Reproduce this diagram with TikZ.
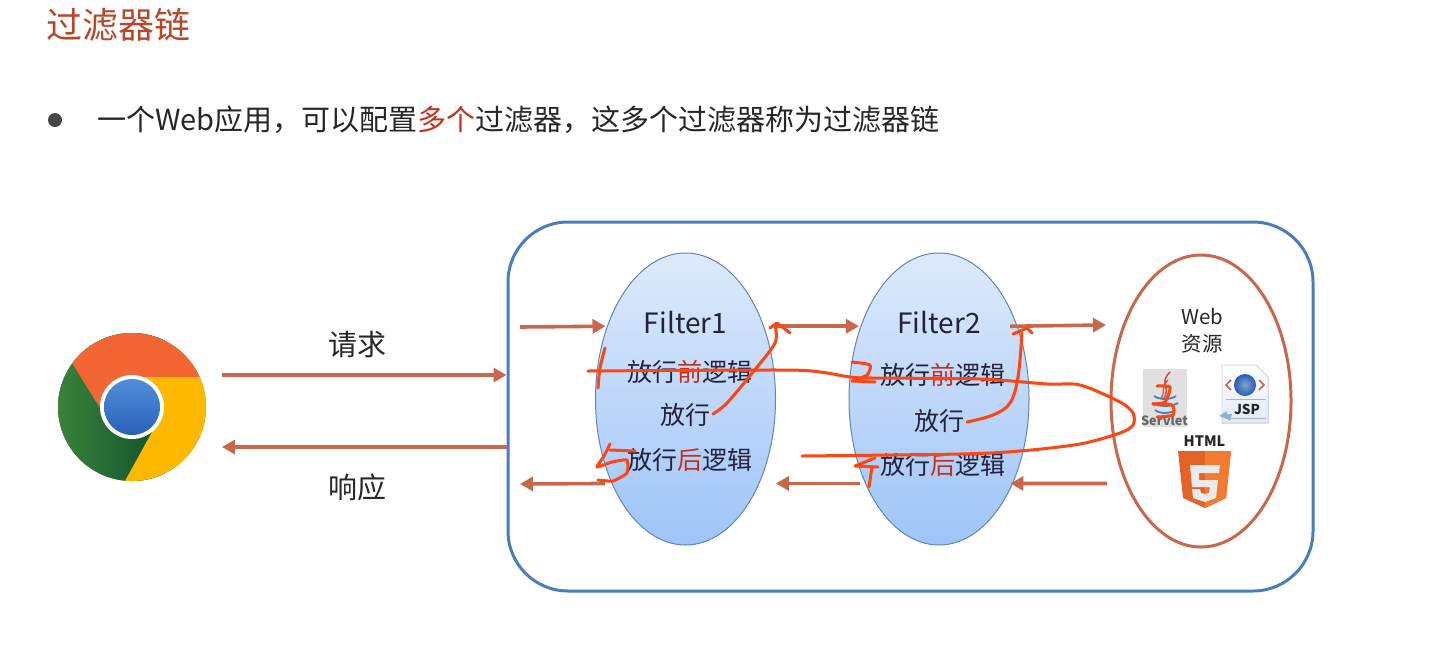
\documentclass[tikz,border=0pt]{standalone}
\usepackage{fontspec}
\setmainfont{Noto Sans CJK SC}
\usepackage{xcolor}
\usetikzlibrary{arrows.meta,positioning,shapes.geometric,calc}
\definecolor{fcTitle} {RGB}{183, 71, 42}
\definecolor{fcInk}   {RGB}{ 38, 38, 38}
\definecolor{fcRed}   {RGB}{196, 48, 28}
\definecolor{fcFlow}  {RGB}{201,103, 76}
\definecolor{fcFrame} {RGB}{ 74,126,187}
\definecolor{fcLine}  {RGB}{ 98,132,182}
\definecolor{fcBlueT} {RGB}{222,234,251}
\definecolor{fcBlueB} {RGB}{158,196,248}
\definecolor{fcPen}   {RGB}{255, 69, 19}
\definecolor{fcHtml}  {RGB}{228, 98, 40}
\definecolor{fcHtmlL} {RGB}{244,122, 52}
\definecolor{fcGlobe} {RGB}{ 40, 90,180}
\definecolor{fcChromeR}{RGB}{243,101, 51}
\definecolor{fcChromeY}{RGB}{255,184,  0}
\definecolor{fcChromeG}{RGB}{ 62,134, 60}
\definecolor{fcChromeD}{RGB}{ 14, 80, 44}
\definecolor{fcChromeT}{RGB}{ 82,142,218}
\definecolor{fcChromeB}{RGB}{ 42, 96,182}

\begin{document}
\begin{tikzpicture}[
  x=0.5pt,y=-0.5pt,
  txt/.style={inner sep=0pt,text=fcInk,font=\fontsize{14.5pt}{17pt}\selectfont},
  stepline/.style={inner sep=0pt,text=fcInk!90!blue,font=\fontsize{12.5pt}{15pt}\selectfont},
  filter/.style={ellipse,draw=fcLine,line width=0.5pt,inner sep=0pt,outer sep=0pt,
                 minimum width=90pt,minimum height=146pt,
                 top color=fcBlueT,bottom color=fcBlueB},
  flow/.style={draw=fcFlow,line width=1.8pt,-{Triangle[length=6.5pt,width=7pt]}},
  pen/.style={draw=fcPen,line width=1.5pt,line cap=round,line join=round}
]
\useasboundingbox (0,0) rectangle (1455,670);

% --- Heading
\node[anchor=west,inner sep=0pt,text=fcTitle,font=\fontsize{18pt}{20pt}\selectfont]
     (title) at (46,25) {过滤器链};
\node[circle,fill=fcInk!85,inner sep=0pt,minimum size=7pt] (bullet) at (55,120) {};
\node[txt,anchor=west] (intro) at (97,120)
     {一个Web应用，可以配置\textcolor{fcRed}{多个}过滤器，这多个过滤器称为过滤器链};

% --- Browser
\node[circle,fill=fcChromeG,inner sep=0pt,minimum size=74pt] (chrome) at (132,407) {};
\begin{scope}
  \clip (132,407) circle[radius=37pt];
  \shade[left color=fcChromeG,middle color=fcChromeG,right color=fcChromeD]
     (50,320) rectangle (165,490);
  \fill[fcChromeR]
     (72,363) -- (103,413) -- (132,407) -- (143,377) -- (215,377) -- (215,320) -- (50,320) -- cycle;
  \fill[fcChromeY]
     (143,377) -- (215,377) -- (215,490) -- (120,490) -- (152,432) -- (132,407) -- cycle;
\end{scope}
\fill[white] (chrome.center) circle[radius=16pt];
\shade[top color=fcChromeT,bottom color=fcChromeB] (chrome.center) circle[radius=14pt];

% --- Frame and its three ellipses
\node[draw=fcFrame,line width=1.5pt,rounded corners=30pt,inner sep=0pt,
      minimum width=402.5pt,minimum height=184.5pt] (frame) at (910.5,406.5) {};
\node[filter] (f1) at (685.5,399) {};
\node[filter] (f2) at (939,399) {};
\node[ellipse,draw=fcFlow,line width=1.5pt,inner sep=0pt,outer sep=0pt,
      minimum width=90pt,minimum height=146pt] (res) at (1201,401) {};

% --- Filter texts
\node[stepline] (f1name) at ([yshift=38pt] f1.center) {\fontsize{14pt}{16pt}\selectfont Filter1};
\node[stepline] (f1pre)  at ([xshift=2pt,yshift=13.5pt] f1.center) {放行\textcolor{fcRed}{前}逻辑};
\node[stepline] (f1go)   at ([yshift=-8pt] f1.center) {放行};
\node[stepline] (f1post) at ([xshift=2pt,yshift=-30.5pt] f1.center) {放行\textcolor{fcRed}{后}逻辑};
\node[stepline] (f2name) at ([yshift=38pt] f2.center) {\fontsize{14pt}{16pt}\selectfont Filter2};
\node[stepline] (f2pre)  at ([xshift=2pt,yshift=12pt] f2.center) {放行\textcolor{fcRed}{前}逻辑};
\node[stepline] (f2go)   at ([yshift=-11pt] f2.center) {放行};
\node[stepline] (f2post) at ([xshift=2pt,yshift=-33pt] f2.center) {放行\textcolor{fcRed}{后}逻辑};
\node[inner sep=0pt,text=fcInk,align=center,font=\fontsize{10.2pt}{13.5pt}\selectfont]
     (restxt) at (1202,331) {Web\\资源};

% --- Servlet icon
\node[fill=black!12,inner sep=0pt,minimum width=22pt,minimum height=29pt] (servlet) at (1165,398) {};
\node[inner sep=0pt,text=black!60,font=\fontsize{6.4pt}{7pt}\selectfont\bfseries]
     (servlettxt) at (1164.5,420.5) {Servlet};
\draw[draw=fcFlow!80!red,line width=0.8pt] (1170,372) .. controls (1158,384) and (1172,386) .. (1163,400);
\draw[draw=fcFlow!80!red,line width=0.6pt] (1168,380) .. controls (1160,388) and (1166,392) .. (1161,398);
\foreach \yy/\ww in {396/11,403/13,410/10}
  \draw[draw=fcFrame,line width=0.9pt] (1165-\ww,\yy) .. controls (1165-\ww/2,\yy+4) and (1165+\ww/2,\yy+4) .. (1165+\ww,\yy);

% --- JSP icon
\filldraw[draw=black!18,top color=white,bottom color=fcBlueT,line width=0.4pt]
     (1222,365) -- (1256,365) -- (1268,377) -- (1268,423) -- (1222,423) -- cycle;
\shade[inner color=fcFrame!70!white,outer color=fcGlobe] (1245,385) circle[radius=5.5pt];
\draw[draw=fcFlow,line width=0.8pt] (1231,380) -- (1226,385) -- (1231,390)
     (1259,380) -- (1264,385) -- (1259,390);
\draw[draw=black!30,line width=0.4pt] (1226,399) -- (1266,399) (1226,418) -- (1266,418);
\node[inner sep=0pt,text=fcInk,font=\fontsize{6.8pt}{8pt}\selectfont\bfseries] (jsptxt) at (1247,409) {JSP};
\fill[fcFrame!60] (1219,416) -- (1227,411) -- (1227,414) -- (1232,414) -- (1230,421) -- (1227,419) -- cycle;

% --- HTML5 icon
\node[inner sep=0pt,text=fcInk,font=\fontsize{7.2pt}{8pt}\selectfont\bfseries] (htmltxt) at (1204.5,441) {HTML};
\fill[fcHtml] (1178,451) -- (1231,451) -- (1226,498) -- (1205,508) -- (1183,498) -- cycle;
\fill[fcHtmlL] (1205,451) -- (1231,451) -- (1226,498) -- (1205,508) -- cycle;
\fill[white!92!black] (1190,465) -- (1192,487) -- (1210,487) -- (1209,493) -- (1205,494) -- (1201,493)
     -- (1200,489) -- (1192,489) -- (1193,498) -- (1205,502) -- (1216,498) -- (1218,480)
     -- (1199,480) -- (1199,473) -- (1219,473) -- (1220,465) -- cycle;

% --- Request and response
\coordinate (reqS) at (222,375);
\coordinate (respE) at (222,447);
\draw[flow] (reqS) -- (reqS -| frame.west);
\draw[flow] (respE -| frame.west) -- (respE);
\node[txt] (reqtxt) at (357.5,344) {请求};
\node[txt] (resptxt) at (357.5,487) {响应};

% --- Chain arrows
\coordinate (inS) at (520,327);
\coordinate (outE) at (520,484);
\coordinate (toRes) at (1106,325);
\draw[flow] (inS) -- ([xshift=-1pt] f1.137);
\draw[flow] ([xshift=6pt] f1.43) -- ([xshift=-1pt] f2.137);
\draw[flow] ([xshift=-3.5pt] f2.43) -- (toRes);
\draw[flow] ([xshift=-3.5pt] f1.229) -- (outE);
\draw[flow] ([xshift=-3pt] f2.229) -- ([xshift=8.5pt] f1.311);
\draw[flow] ([xshift=-10pt] res.228) -- ([xshift=-1pt] f2.311);

% --- Pen strokes on top
\draw[pen] plot[smooth] coordinates {(605,348) (600,368) (598,388)};
\draw[pen] plot[smooth,tension=0.5] coordinates {(588,371) (780,370) (820,372) (850,377) (873,378) (980,379)
     (1047,384) (1080,385) (1120,402) (1133,413) (1133,425) (1120,433) (1080,444) (1020,451) (960,454) (802,456)};
\draw[pen] plot[smooth,tension=0.4] coordinates {(852,362) (870,365) (867,375) (852,381)};
\draw[pen] (852,381) -- (875,382);
\draw[pen] plot[smooth,tension=0.5] coordinates {(713,414) (727,403) (753,372) (775,343) (775,325)};
\draw[pen] (770,328) -- (777,323) -- (790,333);
\draw[pen] plot[smooth,tension=0.6] coordinates {(967,422) (993,415) (1010,403) (1018,377) (1022,333)};
\draw[pen] (1013,334) -- (1027,328) -- (1032,333);
\draw[pen] plot[smooth,tension=0.4] coordinates {(1157,386) (1170,387) (1165,402) (1153,404)};
\draw[pen] plot[smooth,tension=0.4] coordinates {(1153,404) (1172,405) (1173,415) (1157,417)};
\draw[pen] (875,458) -- (855,466) -- (878,467);
\draw[pen] (872,467) -- (869,487);
\draw[pen] plot[smooth,tension=0.3] coordinates {(610,444) (604,456) (597,467) (612,462) (627,460) (627,473) (613,481) (598,480)};
\draw[pen] (610,450) -- (635,451);
\end{tikzpicture}
\end{document}
